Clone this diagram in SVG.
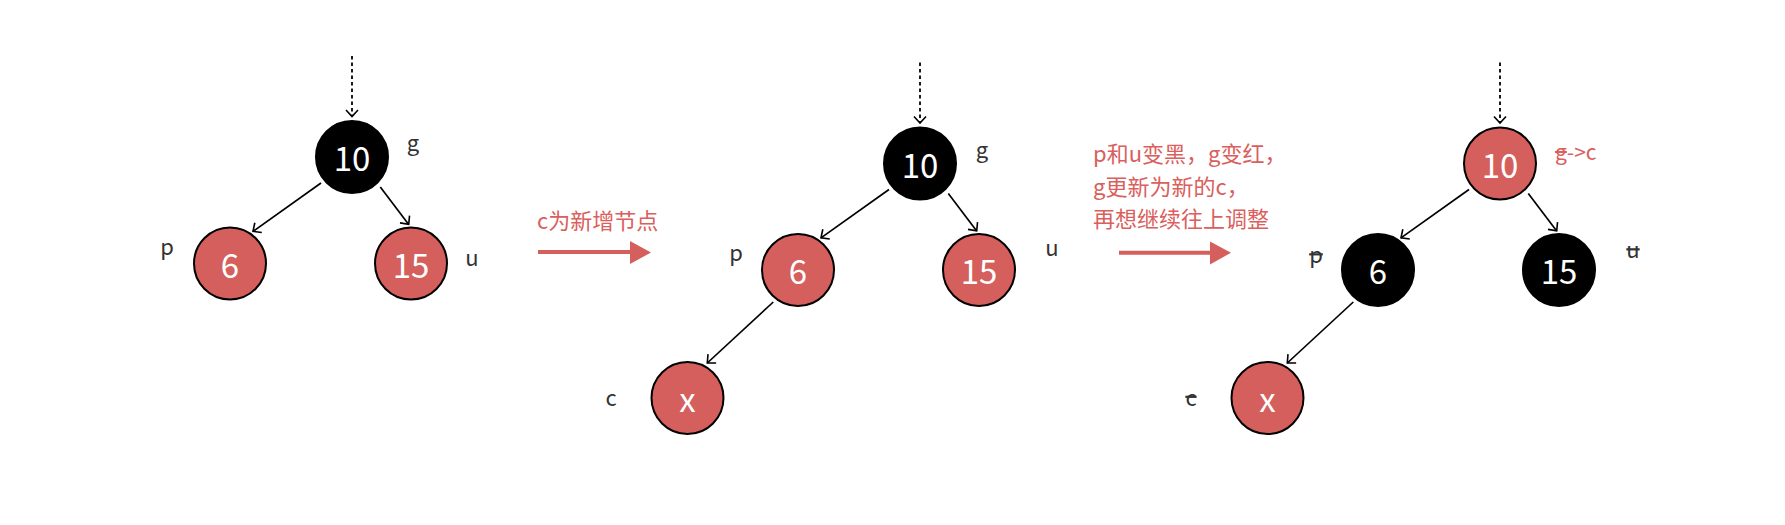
<svg xmlns="http://www.w3.org/2000/svg" width="1785" height="525" viewBox="0 0 1785 525">
<style>
  text { font-family: "Noto Sans CJK SC", "Noto Sans", sans-serif; }
  .red { fill: #d45f5c; stroke: #000; stroke-width: 2; }
  .blk { fill: #000; stroke: #000; stroke-width: 2; }
  .num { fill: #fff; font-size: 33px; text-anchor: middle; }
  .lbl { fill: #333; font-size: 22px; text-anchor: middle; }
  .rlbl { fill: #d9605d; font-size: 21px; }
  .note { fill: #d9605d; font-size: 22px; }
  .edge { stroke: #000; stroke-width: 1.7; fill: none; marker-end: url(#ah); }
  .dash { stroke: #000; stroke-width: 1.8; fill: none; stroke-dasharray: 3.5 3; marker-end: url(#ah); }
  .big { stroke: #d45f5c; stroke-width: 4; fill: none; }
  .strike { text-decoration: line-through; }
</style>
<defs>
  <marker id="ah" markerUnits="userSpaceOnUse" markerWidth="16" markerHeight="16" refX="0" refY="0" viewBox="-8 -8 16 16" orient="auto">
    <path d="M-6.5,-6 L0,0 L-6.5,6" fill="none" stroke="#000" stroke-width="1.6"/>
  </marker>
</defs>
<rect width="1785" height="525" fill="#fff"/>

<g id="connectors">
  <path class="dash" d="M352,56 L352,116.5"/>
  <path class="edge" d="M321,183 L253,231.4"/>
  <path class="edge" d="M380.3,187 L408.7,224.4"/>

  <path class="dash" d="M920,62.5 L920,123"/>
  <path class="edge" d="M889,189.5 L821,237.9"/>
  <path class="edge" d="M948.3,193.5 L976.7,230.9"/>
  <path class="edge" d="M773.3,302 L707.3,363"/>

  <path class="dash" d="M1500,62.5 L1500,123"/>
  <path class="edge" d="M1469,189.5 L1401,237.9"/>
  <path class="edge" d="M1528.3,193.5 L1556.7,230.9"/>
  <path class="edge" d="M1353.3,302 L1287.3,363"/>

  <path class="big" d="M538,252 L631,252"/>
  <polygon points="630,241 651,252.5 630,264" fill="#d45f5c"/>
  <path class="big" d="M1119,252.7 L1211,252.7"/>
  <polygon points="1210,241.5 1231,252.7 1210,264.5" fill="#d45f5c"/>
</g>

<!-- Tree 1 -->
<g id="t1-g"><circle class="blk" cx="352" cy="157" r="36"/><text class="num" x="352" y="171">10</text></g>
<g id="t1-p"><circle class="red" cx="230" cy="263.5" r="36"/><text class="num" x="230" y="277.5">6</text></g>
<g id="t1-u"><circle class="red" cx="411" cy="263.5" r="36"/><text class="num" x="411" y="277.5">15</text></g>
<g id="t1-labels">
  <text class="lbl" x="413" y="151">g</text>
  <text class="lbl" x="167" y="255">p</text>
  <text class="lbl" x="472" y="265.5">u</text>
</g>

<g id="note1"><text class="note" x="537" y="229">c为新增节点</text></g>

<!-- Tree 2 -->
<g id="t2-g"><circle class="blk" cx="920" cy="163.5" r="36"/><text class="num" x="920" y="177.5">10</text></g>
<g id="t2-p"><circle class="red" cx="798" cy="270" r="36"/><text class="num" x="798" y="284">6</text></g>
<g id="t2-u"><circle class="red" cx="979" cy="270" r="36"/><text class="num" x="979" y="284">15</text></g>
<g id="t2-x"><circle class="red" cx="687.5" cy="398" r="36"/><text class="num" x="687.5" y="411.5">x</text></g>
<g id="t2-labels">
  <text class="lbl" x="982" y="158">g</text>
  <text class="lbl" x="736" y="261">p</text>
  <text class="lbl" x="1052" y="256">u</text>
  <text class="lbl" x="611" y="405.5">c</text>
</g>

<g id="note2">
  <text class="note" x="1093" y="162">p和u变黑，g变红，</text>
  <text class="note" x="1093" y="194.5">g更新为新的c，</text>
  <text class="note" x="1093" y="227">再想继续往上调整</text>
</g>

<!-- Tree 3 -->
<g id="t3-g"><circle class="red" cx="1500" cy="163.5" r="36"/><text class="num" x="1500" y="177.5">10</text></g>
<g id="t3-p"><circle class="blk" cx="1378" cy="270" r="36"/><text class="num" x="1378" y="284">6</text></g>
<g id="t3-u"><circle class="blk" cx="1559" cy="270" r="36"/><text class="num" x="1559" y="284">15</text></g>
<g id="t3-x"><circle class="red" cx="1267.5" cy="398" r="36"/><text class="num" x="1267.5" y="411.5">x</text></g>
<g id="t3-labels">
  <text class="rlbl" x="1555" y="160"><tspan class="strike">g</tspan>-&gt;c</text>
  <text class="lbl strike" x="1316" y="263">p</text>
  <text class="lbl strike" x="1633" y="258">u</text>
  <text class="lbl strike" x="1191" y="405.5">c</text>
</g>
</svg>
